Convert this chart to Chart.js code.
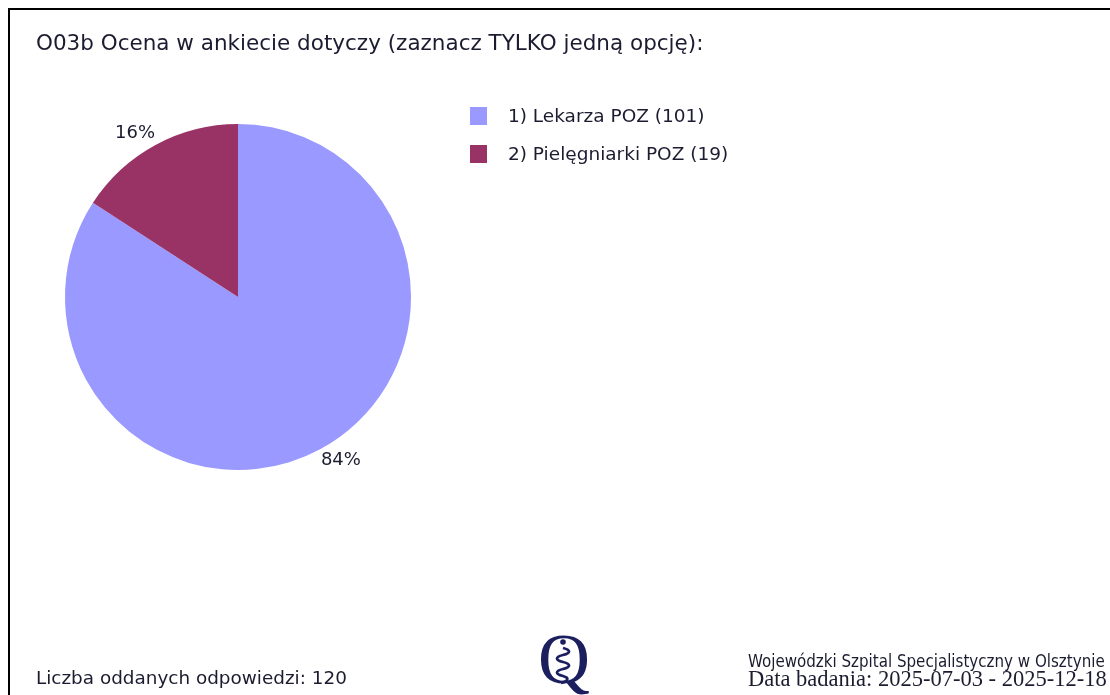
<!DOCTYPE html>
<html>
<head>
<meta charset="utf-8">
<script src="https://cdn.jsdelivr.net/npm/chart.js@4"></script>
<style>
  html, body { margin: 0; padding: 0; background: #fff; }
  #wrap { position: relative; width: 1110px; height: 695px; overflow: hidden; font-family: 'DejaVu Sans', sans-serif; color: #1c1c30; }
  #frame { position: absolute; left: 8px; top: 8px; width: 1200px; height: 800px; border-top: 2px solid #000; border-left: 2px solid #000; }
  #pie { position: absolute; left: 0; top: 0; }
  .txt { position: absolute; white-space: nowrap; line-height: 1; }
  #title { left: 36px; top: 32px; font-size: 21.5px; }
  #legend { position: absolute; left: 470px; top: 107px; }
  .leg-row { height: 38px; display: flex; align-items: flex-start; font-size: 18.5px; line-height: 1; }
  .leg-box { width: 17px; height: 18px; margin-right: 21px; margin-top: 0px; flex: none; }
  #count { left: 36px; top: 669px; font-size: 18.4px; }
  #hosp { left: 748px; top: 653px; font-size: 16.8px; font-family: 'DejaVu Sans Condensed', 'DejaVu Sans', sans-serif; }
  #dates { left: 748px; top: 668px; font-size: 22.5px; font-family: 'Liberation Serif', serif; }
  #logo { position: absolute; left: 533px; top: 628px; }
</style>
</head>
<body>
<div id="wrap">
  <canvas id="pie" width="1110" height="695"></canvas>
  <div id="frame"></div>
  <div class="txt" id="title">O03b Ocena w ankiecie dotyczy (zaznacz TYLKO jedną opcję):</div>
  <div id="legend"></div>
  <div class="txt" id="count"></div>
  <div class="txt" id="hosp">Wojewódzki Szpital Specjalistyczny w Olsztynie</div>
  <div class="txt" id="dates">Data badania: 2025-07-03 - 2025-12-18</div>
  <svg id="logo" width="62" height="67" viewBox="0 0 62 67">
    <text x="31" y="55" text-anchor="middle" font-family="Liberation Serif, serif" font-size="72" fill="#1b1f5e">Q</text>
    <circle cx="30" cy="14" r="2.8" fill="#1b1f5e"/>
    <path d="M30 20 C 38 22, 38 25, 30 27 C 22 29, 22 32, 30 34 C 38 36, 38 39, 30 41 C 22 43, 22 46, 30 48 C 37 50, 35 53, 28 55"
          fill="none" stroke="#1b1f5e" stroke-width="2.8"/>
  </svg>
</div>
<script>
/* global Chart */

var categories = ['1) Lekarza POZ', '2) Pielęgniarki POZ'];
var counts = [101, 19];
var sliceColors = ['#9999ff', '#993366'];

var total = counts.reduce(function(a, b) { return a + b; }, 0);
document.getElementById('count').textContent = 'Liczba oddanych odpowiedzi: ' + total;

// legend built from the same arrays
var legendEl = document.getElementById('legend');
categories.forEach(function(name, i) {
  var row = document.createElement('div');
  row.className = 'leg-row';
  var box = document.createElement('div');
  box.className = 'leg-box';
  box.style.background = sliceColors[i];
  var label = document.createElement('span');
  label.textContent = name + ' (' + counts[i] + ')';
  row.appendChild(box);
  row.appendChild(label);
  legendEl.appendChild(row);
});

// percent labels just outside each slice
var outsideLabels = {
  id: 'outsideLabels',
  afterDatasetsDraw: function(chart) {
    var ctx = chart.ctx;
    var meta = chart.getDatasetMeta(0);
    ctx.save();
    ctx.font = '18px "DejaVu Sans", sans-serif';
    ctx.fillStyle = '#1c1c30';
    ctx.textAlign = 'center';
    ctx.textBaseline = 'middle';
    meta.data.forEach(function(arc, i) {
      var p = arc.getProps(['x', 'y', 'startAngle', 'endAngle', 'outerRadius'], true);
      var mid = (p.startAngle + p.endAngle) / 2 - 0.065;
      var r = p.outerRadius + 20;
      var pct = Math.round(counts[i] / total * 100) + '%';
      ctx.fillText(pct, p.x + Math.cos(mid) * r, p.y + Math.sin(mid) * r);
    });
    ctx.restore();
  }
};

new Chart(document.getElementById('pie').getContext('2d'), {
  type: 'pie',
  data: {
    labels: categories,
    datasets: [{
      data: counts,
      backgroundColor: sliceColors,
      borderWidth: 0,
    }],
  },
  options: {
    responsive: false,
    animation: false,
    layout: { padding: { left: 65, right: 699, top: 124, bottom: 225 } },
    plugins: {
      legend: { display: false },
      tooltip: { enabled: false },
    },
  },
  plugins: [outsideLabels],
});
</script>
</body>
</html>
